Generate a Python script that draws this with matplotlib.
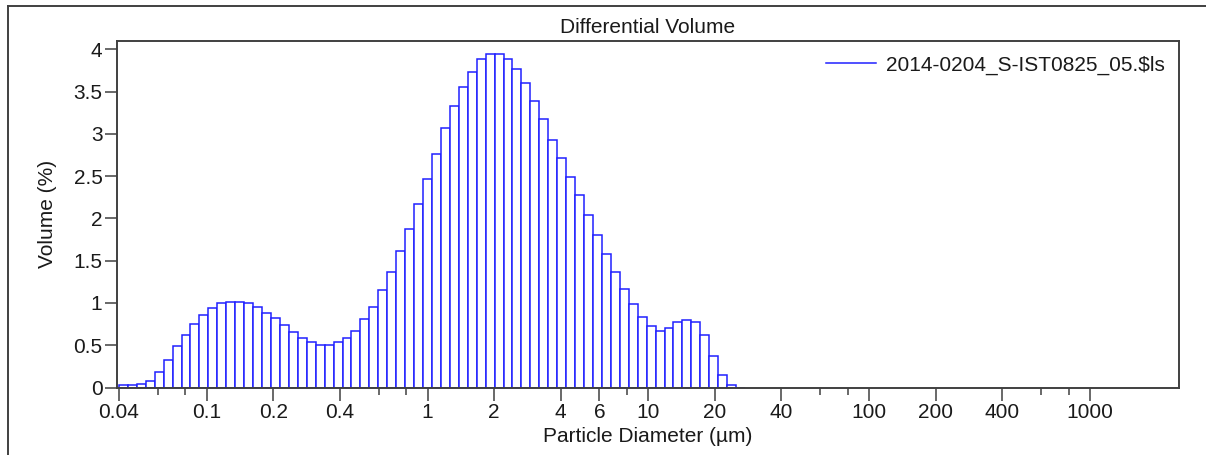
import numpy as np
import matplotlib
matplotlib.use("Agg")
import matplotlib.pyplot as plt
from matplotlib.lines import Line2D
from matplotlib.ticker import FixedLocator, NullFormatter

plt.rcParams['font.family'] = ['Liberation Sans', 'DejaVu Sans']

# Instrument channels (log spaced, 0.04 - 2000 um, 116 channels)
channel_lower = 0.04
channel_upper = 2000.0
n_channels = 116

# Differential volume (%) per channel, starting at 0.04 um
volume_pct = [
    0.03, 0.03, 0.045, 0.08, 0.18, 0.325, 0.49, 0.62, 0.755, 0.86,
    0.935, 1.005, 1.015, 1.015, 1.005, 0.954, 0.886, 0.82, 0.74, 0.657,
    0.59, 0.543, 0.507, 0.507, 0.543, 0.59, 0.673, 0.806, 0.957, 1.15,
    1.365, 1.615, 1.878, 2.176, 2.47, 2.767, 3.066, 3.327, 3.557, 3.738,
    3.884, 3.951, 3.951, 3.884, 3.77, 3.608, 3.394, 3.178, 2.93, 2.72,
    2.486, 2.273, 2.044, 1.807, 1.578, 1.364, 1.167, 0.986, 0.839, 0.722,
    0.671, 0.707, 0.77, 0.804, 0.77, 0.624, 0.377, 0.146, 0.03, 0.0,
]

major_ticks = [0.04, 0.1, 0.2, 0.4, 1, 2, 4, 6, 10, 20, 40, 100, 200, 400, 1000]
major_labels = ["0.04", "0.1", "0.2", "0.4", "1", "2", "4", "6", "10", "20",
                "40", "100", "200", "400", "1000"]
minor_ticks = [0.06, 0.08, 0.6, 0.8, 8, 60, 80, 600, 800]
y_ticks = [0, 0.5, 1, 1.5, 2, 2.5, 3, 3.5, 4]
y_labels = ["0", "0.5", "1", "1.5", "2", "2.5", "3", "3.5", "4"]

series_name = "2014-0204_S-IST0825_05.$ls"

edges = np.geomspace(channel_lower, channel_upper, n_channels + 1)
n = len(volume_pct)
left = edges[:n]
widths = edges[1:n + 1] - edges[:n]

W, H = 1206, 455
fig = plt.figure(figsize=(W / 100, H / 100), dpi=100)
ax = fig.add_axes([117 / W, 1 - 387.5 / H, (1179 - 117) / W, (387.5 - 41) / H])

blue = '#2020ff'
ax.bar(left, volume_pct, width=widths, align='edge', facecolor='white',
       edgecolor=blue, linewidth=1.1, zorder=2)

ax.set_xscale('log')
ax.set_xlim(0.0392, 2530)
ax.set_ylim(0, 4.1)

dark = '#404040'
txt = '#1a1a1a'
ax.xaxis.set_major_locator(FixedLocator(major_ticks))
ax.set_xticklabels(major_labels)
ax.xaxis.set_minor_locator(FixedLocator(minor_ticks))
ax.xaxis.set_minor_formatter(NullFormatter())
ax.set_yticks(y_ticks)
ax.set_yticklabels(y_labels)

fs = 15
ax.tick_params(axis='x', which='major', length=9, width=1.1, color=dark,
               labelsize=fs, labelcolor=txt, pad=2)
ax.tick_params(axis='x', which='minor', length=5, width=1.1, color=dark)
ax.tick_params(axis='y', which='major', length=8.5, width=1.1, color=dark,
               labelsize=fs, labelcolor=txt, pad=2)
for s in ax.spines.values():
    s.set_color(dark)
    s.set_linewidth(1.4)

ax.set_title("Differential Volume", fontsize=fs, color=txt, pad=6)
ax.set_xlabel("Particle Diameter (µm)", fontsize=fs, color=txt, labelpad=4)
ax.set_ylabel("Volume (%)", fontsize=fs, color=txt, labelpad=12)

handle = Line2D([], [], color=blue, linewidth=1.1)
ax.legend([handle], [series_name], loc='upper right', frameon=False,
          fontsize=fs, handlelength=2.4, handletextpad=0.45,
          borderaxespad=0.3, labelcolor=txt)

# outer frame (left and top edges visible)
fig.add_artist(Line2D([8 / W, 8 / W], [0, 1 - 6 / H], transform=fig.transFigure,
                      color=dark, linewidth=1.4))
fig.add_artist(Line2D([8 / W, 1], [1 - 6 / H, 1 - 6 / H], transform=fig.transFigure,
                      color=dark, linewidth=1.4))

fig.savefig("out.png", dpi=100)
